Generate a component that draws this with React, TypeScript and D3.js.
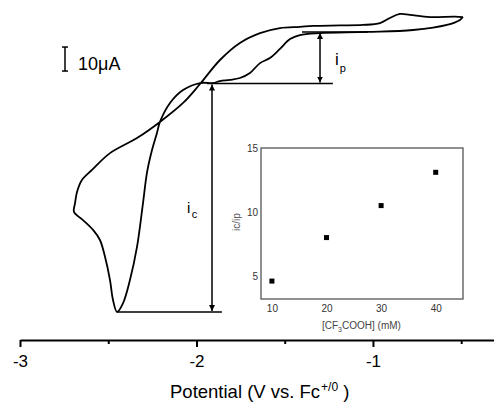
import React, { useEffect, useRef } from 'react';
import * as d3 from 'd3';

// cyclic voltammogram, potential in V vs Fc+/0, current in uA
// upper branch, from the start at -0.49 V out to the switching potential
const upperPotential = [-0.49, -0.535, -0.677, -0.79, -0.847, -0.904, -0.96, -1.057, -1.187, -1.34, -1.414, -1.527, -1.64, -1.754, -1.867, -1.98, -2.076, -2.207, -2.337, -2.49, -2.592, -2.649, -2.677, -2.688, -2.694];
const upperCurrent = [5.4, 5.6, 5.4, 6.3, 6.7, 5.0, 2.9, 2.1, 1.9, 1.7, 1.3, 0.8, -1.3, -5.4, -12.5, -22.5, -30.4, -38.3, -45.0, -51.3, -58.3, -62.5, -67.5, -72.1, -75.8];
// return branch, through the catalytic peak and back
const returnPotential = [-2.643, -2.586, -2.547, -2.518, -2.49, -2.473, -2.45, -2.416, -2.377, -2.337, -2.303, -2.28, -2.252, -2.224, -2.207, -2.15, -2.076, -1.98, -1.907, -1.867, -1.81, -1.754, -1.697, -1.64, -1.584, -1.527, -1.47, -1.414, -1.3, -1.034, -0.773, -0.581, -0.507, -0.49];
const returnCurrent = [-79.2, -83.3, -87.5, -94.6, -104.2, -112.5, -117.5, -113.8, -104.2, -90.4, -72.1, -59.2, -50.0, -42.9, -38.3, -30.4, -25.0, -22.1, -22.1, -21.3, -20.8, -20.0, -17.9, -13.8, -11.7, -7.9, -3.8, -2.1, -1.3, -0.8, 0.0, 2.1, 4.2, 5.4];

const potentialTicks = [-3, -2, -1];
const potentialMinorTicks = [-2.5, -1.5, -0.5];

// annotation levels (uA) and positions (V)
const ipBase = -0.8;
const icBase = -22.3;
const icPeak = -117.5;
const ipArrowV = -1.3;
const icArrowV = -1.912;

// inset: ic/ip against acid concentration
const acidConc = [10, 20, 30, 40];
const currentRatio = [4.6, 8.0, 10.5, 13.1];
const ratioXTicks = [10, 20, 30, 40];
const ratioYTicks = [5, 10, 15];

const font = "'Liberation Sans', Arial, sans-serif";

export default function App() {
  const ref = useRef<SVGSVGElement>(null);

  useEffect(() => {
    const svg = d3.select(ref.current);
    svg.selectAll('*').remove();

    // SCALES
    const x = d3.scaleLinear().domain([-3, -0.3]).range([20, 496.5]);
    const y = d3.scaleLinear().domain([-120, 20]).range([318, -18]);

    const defs = svg.append('defs');
    defs.append('marker')
      .attr('id', 'head')
      .attr('viewBox', '0 0 10 10')
      .attr('refX', 10)
      .attr('refY', 5)
      .attr('markerWidth', 6)
      .attr('markerHeight', 7)
      .attr('markerUnits', 'userSpaceOnUse')
      .attr('orient', 'auto-start-reverse')
      .append('path')
      .attr('d', 'M0,0 L10,5 L0,10 Z')
      .attr('fill', '#000');

    // CV CURVE
    const pts: [number, number][] = [];
    upperPotential.forEach((v, i) => pts.push([v, upperCurrent[i]]));
    returnPotential.forEach((v, i) => pts.push([v, returnCurrent[i]]));

    const line = d3.line<[number, number]>()
      .x(d => x(d[0]))
      .y(d => y(d[1]))
      .curve(d3.curveCatmullRom.alpha(0.5));

    svg.append('path')
      .datum(pts)
      .attr('d', line)
      .attr('fill', 'none')
      .attr('stroke', '#000')
      .attr('stroke-width', 1.8);

    // ANNOTATIONS
    const g = svg.append('g').attr('stroke', '#000').attr('stroke-width', 1.5);
    g.append('line')
      .attr('x1', x(-1.402)).attr('x2', x(-1.028))
      .attr('y1', y(ipBase)).attr('y2', y(ipBase));
    g.append('line')
      .attr('x1', x(-1.941)).attr('x2', x(-1.227))
      .attr('y1', y(icBase)).attr('y2', y(icBase));
    g.append('line')
      .attr('x1', x(-2.45)).attr('x2', x(-1.856))
      .attr('y1', y(icPeak)).attr('y2', y(icPeak));
    g.append('line')
      .attr('x1', x(ipArrowV)).attr('x2', x(ipArrowV))
      .attr('y1', y(ipBase) + 1).attr('y2', y(icBase) - 1)
      .attr('marker-start', 'url(#head)').attr('marker-end', 'url(#head)');
    g.append('line')
      .attr('x1', x(icArrowV)).attr('x2', x(icArrowV))
      .attr('y1', y(icBase) + 1).attr('y2', y(icPeak) - 1)
      .attr('marker-start', 'url(#head)').attr('marker-end', 'url(#head)');

    svg.append('text')
      .attr('x', 335).attr('y', 65)
      .attr('font-family', font).attr('font-size', 17).attr('fill', '#000')
      .text('i')
      .append('tspan').attr('dx', 1).attr('dy', 7).attr('font-size', 11).text('p');
    svg.append('text')
      .attr('x', 187).attr('y', 213)
      .attr('font-family', font).attr('font-size', 15).attr('fill', '#000')
      .text('i')
      .append('tspan').attr('dx', 1.5).attr('dy', 5).attr('font-size', 11).text('c');

    // scale bar: 10 uA
    const barV = -2.745;
    const barTop = -7.1;
    const sb = svg.append('g').attr('stroke', '#000').attr('stroke-width', 1.5);
    sb.append('line')
      .attr('x1', x(barV)).attr('x2', x(barV))
      .attr('y1', y(barTop)).attr('y2', y(barTop - 10));
    [barTop, barTop - 10].forEach(v => {
      sb.append('line')
        .attr('x1', x(barV) - 3).attr('x2', x(barV) + 3)
        .attr('y1', y(v)).attr('y2', y(v));
    });
    svg.append('text')
      .attr('x', 78).attr('y', 70)
      .attr('font-family', font).attr('font-size', 18)
      .text('10μA');

    // MAIN AXIS
    const axisY = 340;
    const xAxisGroup = svg.append('g').attr('transform', `translate(0, ${axisY})`);
    xAxisGroup.call(
      d3.axisBottom(x)
        .tickValues(potentialTicks)
        .tickSize(7)
        .tickSizeOuter(0)
        .tickPadding(8)
        .tickFormat(d => String(d))
    );
    xAxisGroup.select('.domain').attr('stroke-width', 2);
    xAxisGroup.selectAll('.tick line').attr('stroke-width', 2);
    xAxisGroup.selectAll('text')
      .attr('font-family', font).attr('font-size', 17).attr('fill', '#000');

    const minorGroup = svg.append('g').attr('transform', `translate(0, ${axisY})`);
    minorGroup.call(
      d3.axisBottom(x).tickValues(potentialMinorTicks).tickSize(4).tickFormat(() => '')
    );
    minorGroup.select('.domain').remove();
    minorGroup.selectAll('.tick line').attr('stroke-width', 2);

    const title = svg.append('text')
      .attr('x', 170).attr('y', 398)
      .attr('font-family', font).attr('font-size', 18.5);
    title.append('tspan').text('Potential (V vs. Fc');
    title.append('tspan').attr('dy', -7).attr('dx', 1).attr('font-size', 12).text('+/0');
    title.append('tspan').attr('dy', 7).attr('dx', 5).text(')');

    // INSET
    const xi = d3.scaleLinear().domain([8, 45]).range([261, 463]);
    const yi = d3.scaleLinear().domain([3.2, 15]).range([299, 148]);

    svg.append('rect')
      .attr('x', 261).attr('y', 148)
      .attr('width', 202).attr('height', 151)
      .attr('fill', 'none').attr('stroke', '#555').attr('stroke-width', 1.3);

    const xiGroup = svg.append('g').attr('transform', 'translate(0, 299)');
    xiGroup.call(d3.axisBottom(xi).tickValues(ratioXTicks).tickSize(0).tickPadding(6));
    const yiGroup = svg.append('g').attr('transform', 'translate(261, 0)');
    yiGroup.call(d3.axisLeft(yi).tickValues(ratioYTicks).tickSize(0).tickPadding(3));
    [xiGroup, yiGroup].forEach(ax => {
      ax.select('.domain').remove();
      ax.selectAll('text').attr('font-family', font).attr('font-size', 10).attr('fill', '#333');
    });

    svg.append('g')
      .selectAll('rect')
      .data(acidConc)
      .enter()
      .append('rect')
      .attr('x', (d) => xi(d) - 2.5)
      .attr('y', (d, i) => yi(currentRatio[i]) - 2.5)
      .attr('width', 5)
      .attr('height', 5)
      .attr('fill', '#000');

    svg.append('text')
      .attr('transform', 'translate(239.5, 222) rotate(-90)')
      .attr('text-anchor', 'middle')
      .attr('font-family', font).attr('font-size', 10).attr('fill', '#555')
      .text('ic/ip');

    const xl = svg.append('text')
      .attr('x', 322).attr('y', 329)
      .attr('font-family', font).attr('font-size', 10).attr('fill', '#444');
    xl.append('tspan').text('[CF');
    xl.append('tspan').attr('dy', 3).attr('font-size', 7).text('3');
    xl.append('tspan').attr('dy', -3).text('COOH] (mM)');
  }, []);

  return (
    <svg
      ref={ref}
      width={494}
      height={404}
      style={{ position: 'absolute', left: 0, top: 0, background: '#fff' }}
    />
  );
}
